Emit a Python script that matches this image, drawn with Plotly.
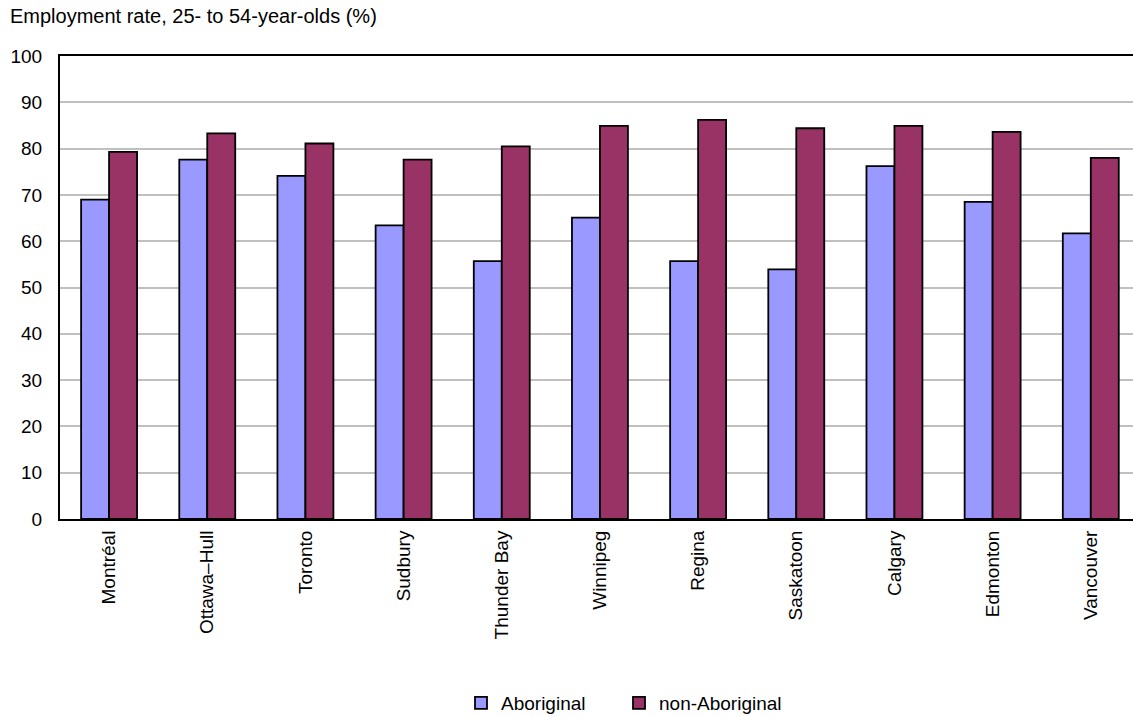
import plotly.graph_objects as go

# Census metropolitan areas, employment rates for 25- to 54-year-olds (%)
cities = ["Montréal", "Ottawa–Hull", "Toronto", "Sudbury", "Thunder Bay", "Winnipeg",
          "Regina", "Saskatoon", "Calgary", "Edmonton", "Vancouver"]
aboriginal = [69.0, 77.6, 74.1, 63.4, 55.7, 65.1, 55.7, 53.9, 76.2, 68.5, 61.7]
non_aboriginal = [79.3, 83.3, 81.1, 77.6, 80.5, 84.9, 86.2, 84.4, 84.9, 83.6, 78.0]
y_ticks = list(range(0, 101, 10))

FONT = "Liberation Sans, Arial, sans-serif"
SIZE = 19

fig = go.Figure()
fig.add_trace(go.Bar(
    x=cities, y=aboriginal, name="Aboriginal", legend="legend",
    marker=dict(color="#9999FF", line=dict(color="#000000", width=1.8)),
))
fig.add_trace(go.Bar(
    x=cities, y=non_aboriginal, name="non-Aboriginal", legend="legend2",
    marker=dict(color="#993366", line=dict(color="#000000", width=1.8)),
))

legend_style = dict(
    orientation="h", xref="container", yref="container",
    xanchor="left", y=1 - 703 / 717, yanchor="middle",
    font=dict(family=FONT, size=SIZE, color="#000000"),
    bgcolor="rgba(0,0,0,0)",
)

fig.update_layout(
    width=1133, height=717,
    margin=dict(l=60, r=0, t=56, b=198),
    paper_bgcolor="white", plot_bgcolor="white",
    barmode="group", bargap=0.43, bargroupgap=0,
    font=dict(family=FONT, size=SIZE, color="#000000"),
    title=dict(
        text="Employment rate, 25- to 54-year-olds (%)",
        font=dict(family=FONT, size=20, color="#000000"),
        xref="container", yref="container",
        x=10 / 1133, xanchor="left", y=1 - 16 / 717, yanchor="middle",
    ),
    showlegend=True,
    legend=dict(legend_style, x=461 / 1133),
    legend2=dict(legend_style, x=619 / 1133),
)

fig.update_xaxes(
    type="category", range=[-0.5, 10.43],
    showline=True, linecolor="#000000", linewidth=2, mirror=True,
    ticks="", tickangle=-90, showgrid=False, ticklabelstandoff=2,
    tickfont=dict(family=FONT, size=SIZE, color="#000000"),
)
fig.update_yaxes(
    range=[0, 100], tickvals=y_ticks,
    showline=True, linecolor="#000000", linewidth=2,
    showgrid=True, gridcolor="#C0C0C0", gridwidth=2,
    ticks="", zeroline=False, ticklabelstandoff=12,
    tickfont=dict(family=FONT, size=SIZE, color="#000000"),
)

fig.write_html("out.html")
